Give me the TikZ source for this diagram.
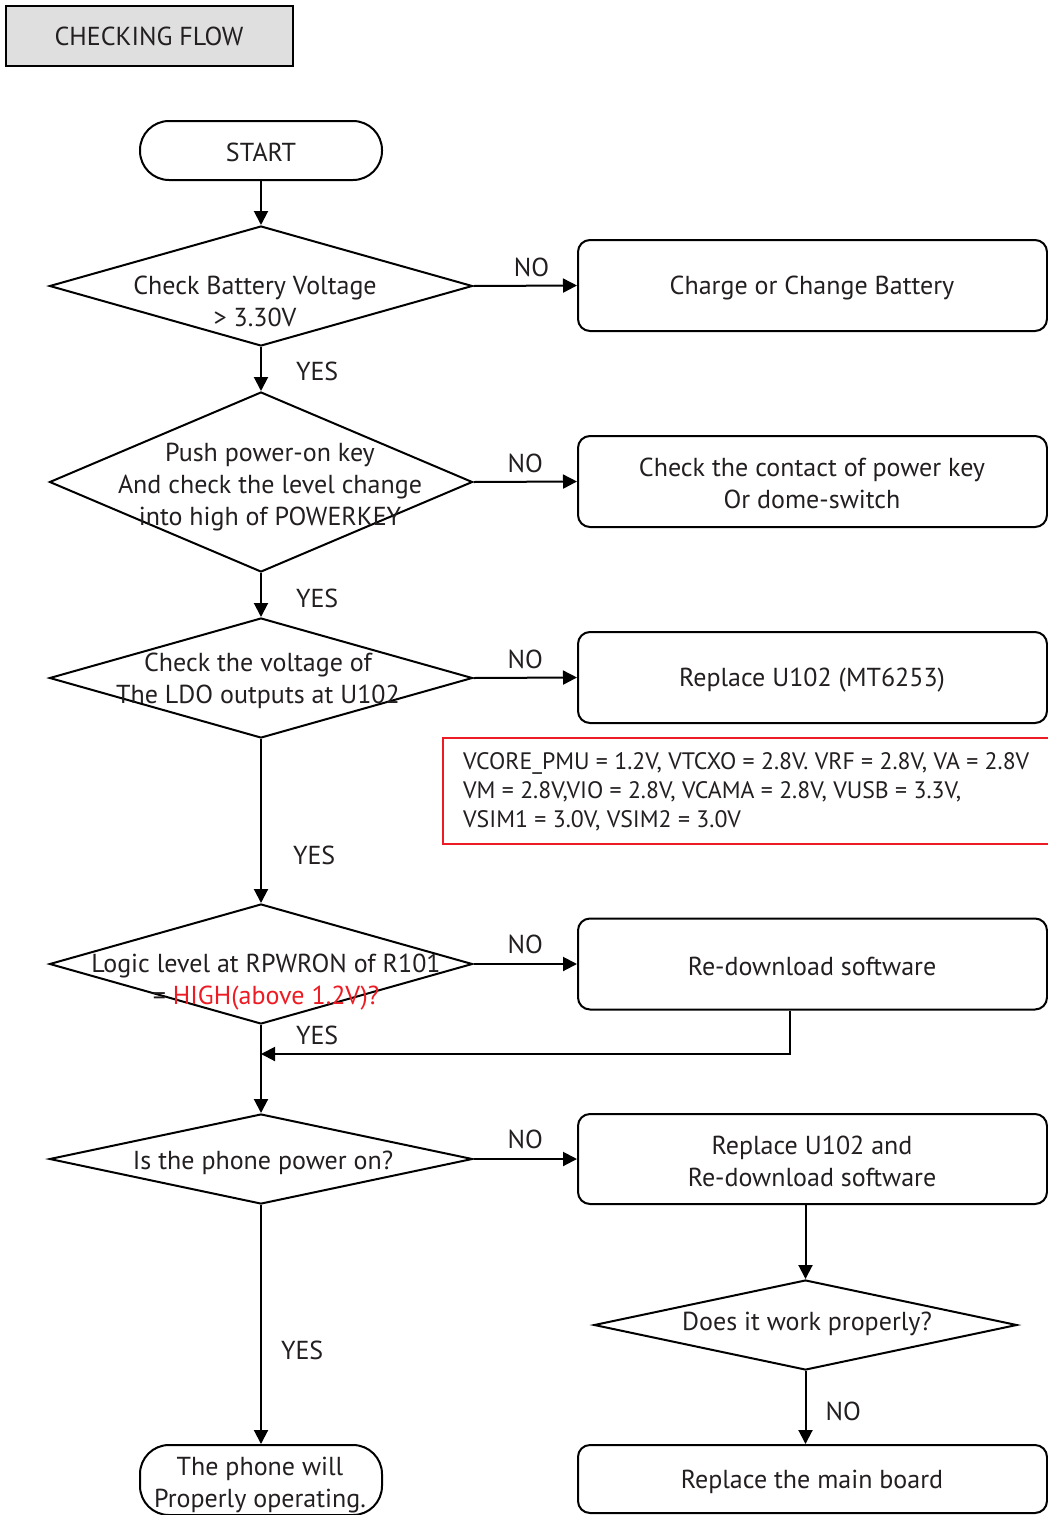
\documentclass[tikz,border=0pt]{standalone}
\usepackage{fontspec}
\setmainfont{PT Sans}
\usetikzlibrary{shapes.geometric,arrows.meta}
\definecolor{txt}{HTML}{231F20}
\definecolor{redline}{HTML}{ED1C24}
\begin{document}
\begin{tikzpicture}[x=1pt,y=-1pt,
  every node/.style={text=txt},
  lbl/.style={font=\fontsize{26}{32}\selectfont, align=center, inner sep=0pt},
  small/.style={font=\fontsize{23.8}{29}\selectfont, align=left, inner sep=0pt},
  dia/.style={draw=black, diamond, line width=2pt, inner sep=0pt, minimum width=423pt, minimum height=#1},
  dia/.default=120pt,
  boxn/.style={draw=black, rounded corners=12pt, line width=2pt, minimum width=469pt, minimum height=#1, inner sep=0pt},
  boxn/.default=91pt,
  termn/.style={draw=black, rounded corners=29pt, line width=2pt, minimum width=242pt, minimum height=#1, inner sep=0pt},
  arr/.style={-{Triangle[length=14pt,width=14pt]}, line width=2pt, draw=black},
  yesl/.style={lbl, anchor=west},
  nol/.style={lbl, anchor=south}
]
\useasboundingbox (0,0) rectangle (1048,1515);

% title
\node[draw=black, fill=gray!25, line width=2pt, minimum width=287pt, minimum height=60pt, lbl] (title) at (149,36) {CHECKING FLOW};

% start
\node[termn=59pt] (start) at (261,150.5) {};
\node[lbl] (startt) at (261,152) {START};

% decision 1
\node[dia] (d1) at (261,286) {};
\node[lbl] (d1t) at (255,301) {Check Battery Voltage\\> 3.30V};
\node[boxn] (b1) at (812.5,285.5) {};
\node[lbl] (b1t) at (812,288) {Charge or Change Battery};

% decision 2
\node[dia=180pt] (d2) at (261,482) {};
\node[lbl] (d2t) at (270,487) {Push power-on key\\And check the level change\\into high of POWERKEY};
\node[boxn] (b2) at (812.5,481.5) {};
\node[lbl] (b2t) at (812,483) {Check the contact of power key\\Or dome-switch};

% decision 3
\node[dia] (d3) at (261,678) {};
\node[lbl] (d3t) at (258,681) {Check the voltage of\\The LDO outputs at U102};
\node[boxn] (b3) at (812.5,677.5) {};
\node[lbl] (b3t) at (812,680) {Replace U102 (MT6253)};

% red note
\draw[redline, line width=1.5pt] (443,738) rectangle (1070,844);
\node[small, anchor=north west] (note) at (463,752) {VCORE\_PMU = 1.2V, VTCXO = 2.8V. VRF = 2.8V, VA = 2.8V\\VM = 2.8V,VIO = 2.8V, VCAMA = 2.8V, VUSB = 3.3V,\\VSIM1 = 3.0V, VSIM2 = 3.0V};

% decision 4
\node[dia] (d4) at (261,964) {};
\node[lbl] (d4t) at (266,982) {Logic level at RPWRON of R101\\= \textcolor{redline}{HIGH(above 1.2V)?}};
\node[boxn] (b4) at (812.5,964) {};
\node[lbl] (b4t) at (812,966) {Re-download software};

% decision 5
\node[dia=90pt] (d5) at (261,1159) {};
\node[lbl] (d5t) at (263,1163) {Is the phone power on?};
\node[boxn=90pt] (b5) at (812.5,1159) {};
\node[lbl] (b5t) at (812,1161) {Replace U102 and\\Re-download software};

% decision 6
\node[draw=black, diamond, line width=2pt, inner sep=0pt, minimum width=423pt, minimum height=90pt] (d6) at (805.5,1325) {};
\node[lbl] (d6t) at (807,1324) {Does it work properly?};
\node[boxn=68pt] (b6) at (812.5,1479) {};
\node[lbl] (b6t) at (812,1482) {Replace the main board};

% end terminal
\node[termn=70pt] (term) at (261,1480) {};
\node[lbl] (termt) at (260,1485) {The phone will\\Properly operating.};

% connectors
\draw[arr] (start) -- (d1.north);
\draw[arr] (d1.east) -- (b1.west) node[nol, pos=0.56, above=8pt] {NO};
\draw[arr] (d1.south) -- (d2.north) node[yesl, pos=0.56, right=34pt] {YES};
\draw[arr] (d2.east) -- (b2.west) node[nol, pos=0.5, above=8pt] {NO};
\draw[arr] (d2.south) -- (d3.north) node[yesl, pos=0.58, right=34pt] {YES};
\draw[arr] (d3.east) -- (b3.west) node[nol, pos=0.5, above=8pt] {NO};
\draw[arr] (d3.south) -- (d4.north) node[yesl, pos=0.71, right=31pt] {YES};
\draw[arr] (d4.east) -- (b4.west) node[nol, pos=0.5, above=9pt] {NO};
\coordinate (fb) at (790,1054);
\draw[arr] (b4.south -| fb) -- (fb) -- (fb -| d4.south);
\draw[arr] (d4.south) -- (d5.north) node[yesl, pos=0.12, right=34pt] {YES};
\draw[arr] (d5.east) -- (b5.west) node[nol, pos=0.5, above=9pt] {NO};
\draw[arr] (b5.south -| d6.north) -- (d6.north);
\draw[arr] (d6.south) -- (d6.south |- b6.north) node[yesl, pos=0.55, right=19pt] {NO};
\draw[arr] (d5.south) -- (term.north) node[yesl, pos=0.61, right=19pt] {YES};
\end{tikzpicture}
\end{document}
